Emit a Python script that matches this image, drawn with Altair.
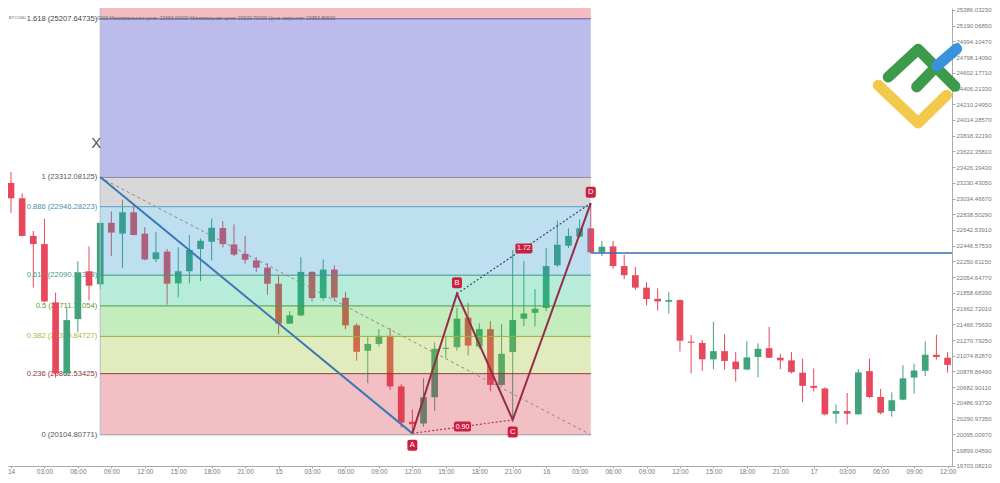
import altair as alt
import pandas as pd

# ---------------- data ----------------
HOURS = list(range(86))
OPEN = [23230, 23038, 22569, 22467, 21740, 20854, 21532, 22128, 21965, 22732,
        22597, 22863, 22597, 22279, 22373, 21977, 22128, 22406, 22496, 22667,
        22462, 22345, 22263, 22173, 21973, 21475, 21577, 22120, 21794, 22149,
        21797, 21454, 21136, 21222, 21323, 20692, 20251, 20230, 20557, 21161,
        21181, 21549, 21189, 21406, 20711, 21120, 21537, 21610, 21671, 22202,
        22447, 22560, 22663, 22364, 22438, 22193, 22079, 21924, 21785, 21748,
        21769, 21250, 21234, 21030, 21132, 21001, 20903, 21059, 21169, 21050,
        21017, 20863, 20699, 20667, 20352, 20385, 20344, 20883, 20560, 20385,
        20527, 20802, 20887, 21087, 21050, 20956]
HIGH = [23365, 23099, 22630, 22781, 21862, 21675, 22254, 22438, 22732, 22875,
        23019, 22945, 22679, 22618, 22406, 22426, 22578, 22536, 22786, 22753,
        22712, 22569, 22303, 22230, 22079, 21630, 22303, 22130, 22275, 22200,
        21871, 21480, 21307, 21406, 21418, 20720, 20405, 20793, 21243, 21323,
        21671, 21733, 21479, 21507, 21467, 22394, 22254, 21904, 22418, 22761,
        22663, 22774, 22977, 22508, 22508, 22333, 22181, 21990, 21916, 21867,
        21780, 21332, 21271, 21500, 21344, 21120, 21255, 21230, 21434, 21099,
        21120, 21038, 20916, 20680, 20466, 20610, 20907, 21038, 20662, 20618,
        20956, 20977, 21255, 21336, 21120, 21120]
LOW = [22855, 22560, 21924, 21740, 20800, 20830, 21365, 21764, 21908, 22316,
       22169, 22575, 22265, 22242, 21712, 21801, 21977, 22006, 22263, 22426,
       22316, 22222, 22120, 21834, 21344, 21470, 21570, 21752, 21761, 21760,
       21406, 21013, 20732, 21190, 20646, 20181, 20107, 20189, 20385, 21047,
       21140, 21078, 21161, 20630, 20692, 20275, 21446, 21439, 21630, 22181,
       22418, 22548, 22352, 22316, 22161, 22030, 21895, 21703, 21638, 21598,
       21127, 20854, 20887, 20907, 20903, 20753, 20895, 20805, 21047, 20907,
       20854, 20495, 20630, 20331, 20230, 20217, 20344, 20548, 20344, 20315,
       20520, 20601, 20821, 21026, 20863, 20900]
CLOSE = [23038, 22569, 22467, 21752, 20854, 21519, 22112, 21948, 22732, 22610,
         22863, 22581, 22275, 22364, 21973, 22128, 22394, 22508, 22671, 22467,
         22336, 22271, 22173, 21973, 21475, 21577, 22120, 21794, 22149, 21800,
         21454, 21124, 21222, 21323, 20692, 20242, 20221, 20557, 21161, 21173,
         21537, 21201, 21406, 20711, 21099, 21519, 21601, 21659, 22193, 22459,
         22569, 22663, 22364, 22434, 22193, 22079, 21924, 21782, 21752, 21769,
         21262, 21238, 21030, 21132, 21010, 20907, 21054, 21161, 21050, 21017,
         20870, 20699, 20674, 20344, 20385, 20352, 20867, 20560, 20364, 20520,
         20793, 20891, 21087, 21059, 20961, 21087]

# Fibonacci retracement levels (drawn from hour 8 to hour 52)
FIB_PRICE = [25276, 23298, 22933, 22079, 21696, 21316, 20851, 20089]
FIB_TEXT = ["1.618 (25207.64735)", "1 (23312.08125)", "0.886 (22946.28223)",
            "0.618 (22090.31338)", "0.5 (21711.71054)", "0.382 (21330.84727)",
            "0.236 (20862.53425)", "0 (20104.80771)"]
FIB_START, FIB_END = 8, 52
BAND_TOP = 25447

# XABCD pattern
PAT_NAME = ["X", "A", "B", "C", "D"]
PAT_HOUR = [8, 36, 40, 45, 52]
PAT_PRICE = [23304, 20107, 21847, 20275, 22977]
RATIO_TEXT = ["0.90", "1.72"]          # A->C and B->D
LAST_PRICE = 22357

# header texts (hour, price)
HEAD_TEXT = ["BTCUSD",
             "0000  Максимальная цена: 23363.00000   Минимальная цена: 23320.70000   Цена закрытия: 23353.80000"]
HEAD_HOUR = [-0.2, 7.72]
HEAD_PRICE = [25288, 25288]

# axes
X_TICKS = list(range(0, 85, 3))
X_LABELS = ["14", "03:00", "06:00", "09:00", "12:00", "15:00", "18:00", "21:00",
            "15", "03:00", "06:00", "09:00", "12:00", "15:00", "18:00", "21:00",
            "16", "03:00", "06:00", "09:00", "12:00", "15:00", "18:00", "21:00",
            "17", "03:00", "06:00", "09:00", "12:00"]
Y_TICKS = [19703.08210, 19899.04590, 20095.00970, 20290.97350, 20486.93730,
           20682.90110, 20878.86490, 21074.82870, 21270.79250, 21466.75630,
           21662.72010, 21858.68390, 22054.64770, 22250.61150, 22446.57530,
           22642.53910, 22838.50290, 23034.46670, 23230.43050, 23426.39430,
           23622.35810, 23818.32190, 24014.28570, 24210.24950, 24406.21330,
           24602.17710, 24798.14090, 24994.10470, 25190.06850, 25386.03230]

# watermark logo strokes (hour, price)
LOGO_STROKE = ["y", "y", "y", "g1", "g1", "g1", "g2", "g2", "b", "b"]
LOGO_HOUR = [77.79, 81.37, 83.92, 78.68, 81.37, 84.67, 81.23, 82.87, 83.05, 84.82]
LOGO_PRICE = [24447, 23978, 24324, 24550, 24896, 24434, 24427, 24663, 24690, 24902]

# ---------------- styling ----------------
RED, GREEN = "#e8485c", "#41a37c"
BAND_COLORS = ["#d42030", "#2020c0", "#7d7d7d", "#2694cd", "#12c084",
               "#3ac026", "#98c026", "#d42d3a"]
LINE_COLORS = ["#5b5bb0", "#8a8aa0", "#5a9ec8", "#3a9a80", "#4a9a4a",
               "#9ab040", "#8b3a3a", "#999999"]
LABEL_COLORS = ["#444444", "#555555", "#4a8cb0", "#3a9a8a", "#5a9a30",
                "#b8b040", "#8a3535", "#555555"]
BOX = "#cc1f40"
FONT = "Liberation Sans"

xs = alt.Scale(domain=[-0.269, 84.4], nice=False, zero=False)
ys = alt.Scale(domain=[19700.0, 25410.5], nice=False, zero=False)

label_expr = "[" + ",".join("'%s'" % s for s in X_LABELS) + "][round(datum.value/3)]"

X_AXIS = alt.Axis(
    values=X_TICKS, labelExpr=label_expr, title=None, grid=False,
    labelFontSize=6.5, labelColor="#777", labelFont=FONT, tickColor="#aaa",
    domainColor="#aaa", tickSize=2, labelPadding=0, labelFlush=False,
    labelOverlap=False)
Y_AXIS = alt.Axis(
    orient="right", values=Y_TICKS, format=".5f", title=None, grid=False,
    labelFontSize=6, labelColor="#777", labelFont=FONT, tickColor="#aaa",
    domainColor="#aaa", tickSize=3, labelPadding=1, labelFlush=False,
    labelOverlap=False)


def X(f):
    return alt.X(f, scale=xs, axis=X_AXIS)


def Y(f):
    return alt.Y(f, scale=ys, axis=Y_AXIS)


candles = pd.DataFrame({"h": HOURS, "o": OPEN, "hi": HIGH, "lo": LOW, "c": CLOSE})
candles["col"] = [GREEN if c >= o else RED for o, c in zip(OPEN, CLOSE)]

base = alt.Chart(candles)
wicks = base.mark_rule(strokeWidth=1, clip=True).encode(
    x=X("h:Q"), y=Y("lo:Q"), y2="hi:Q",
    color=alt.Color("col:N", scale=None),
)
bodies = base.transform_calculate(
    x1="datum.h - 0.3", x2="datum.h + 0.3",
    top="abs(datum.o - datum.c) < 14 ? (datum.o + datum.c) / 2 + 7 : max(datum.o, datum.c)",
    bot="abs(datum.o - datum.c) < 14 ? (datum.o + datum.c) / 2 - 7 : min(datum.o, datum.c)",
).mark_rect(clip=True).encode(
    x=X("x1:Q"), x2="x2:Q", y=Y("bot:Q"), y2="top:Q",
    color=alt.Color("col:N", scale=None),
)

# fib bands
band_hi = [BAND_TOP] + FIB_PRICE[:-1]
bands = pd.DataFrame({"lo": FIB_PRICE, "hi": band_hi, "col": BAND_COLORS,
                      "x1": [FIB_START] * 8, "x2": [FIB_END] * 8})
band_layer = alt.Chart(bands).mark_rect(opacity=0.3, clip=True).encode(
    x=X("x1:Q"), x2="x2:Q", y=Y("lo:Q"), y2="hi:Q",
    color=alt.Color("col:N", scale=None),
)

levels = pd.DataFrame({"p": FIB_PRICE, "txt": FIB_TEXT, "lc": LINE_COLORS,
                       "tc": LABEL_COLORS, "x1": [FIB_START] * 8, "x2": [FIB_END] * 8})
level_lines = alt.Chart(levels).mark_rule(strokeWidth=1).encode(
    x=X("x1:Q"), x2="x2:Q", y=Y("p:Q"),
    color=alt.Color("lc:N", scale=None),
)
level_text = alt.Chart(levels).mark_text(
    align="right", baseline="middle", dx=-3, fontSize=7.6, font=FONT).encode(
    x=X("x1:Q"), y=Y("p:Q"), text="txt:N",
    color=alt.Color("tc:N", scale=None),
)
box_edge = alt.Chart(levels.iloc[[0]]).transform_calculate(
    top=str(BAND_TOP), bot=str(FIB_PRICE[-1])).mark_rule(
    strokeWidth=1, color="#b8b8c8", clip=True).encode(
    x=X("x1:Q"), y=Y("bot:Q"), y2="top:Q")

head = pd.DataFrame({"t": HEAD_TEXT, "h": HEAD_HOUR, "p": HEAD_PRICE,
                     "fs": [4.2, 5.0]})
head_layer = alt.Chart(head).mark_text(
    align="left", baseline="middle", font=FONT, color="#666").encode(
    x=X("h:Q"), y=Y("p:Q"), text="t:N",
    size=alt.Size("fs:Q", scale=None))

# fib trend diagonal
diag = pd.DataFrame({"h": [FIB_START, FIB_END], "p": [FIB_PRICE[1], FIB_PRICE[-1]]})
diag_layer = alt.Chart(diag).mark_line(
    strokeWidth=1, strokeDash=[3, 3], color="#8a8a8a").encode(
    x=X("h:Q"), y=Y("p:Q"))

pat = pd.DataFrame({"n": PAT_NAME, "h": PAT_HOUR, "p": PAT_PRICE,
                    "k": list(range(5))})
xa = alt.Chart(pat.iloc[0:2]).mark_line(strokeWidth=2, color="#3b78b8").encode(
    x=X("h:Q"), y=Y("p:Q"), order="k:Q")
abcd = alt.Chart(pat.iloc[1:5]).mark_line(strokeWidth=2, color="#972c48").encode(
    x=X("h:Q"), y=Y("p:Q"), order="k:Q")
ac = alt.Chart(pat.iloc[[1, 3]]).mark_line(
    strokeWidth=1.2, strokeDash=[2, 2], color="#c0304f").encode(
    x=X("h:Q"), y=Y("p:Q"))
bd = alt.Chart(pat.iloc[[2, 4]]).mark_line(
    strokeWidth=1.2, strokeDash=[2, 2], color="#4a3a78").encode(
    x=X("h:Q"), y=Y("p:Q"))

price_line = alt.Chart(pd.DataFrame({"x1": [PAT_HOUR[-1]], "x2": [84.4],
                                     "p": [LAST_PRICE]})).mark_rule(
    strokeWidth=1.5, color="#3a6eb0").encode(
    x=X("x1:Q"), x2="x2:Q", y=Y("p:Q"))

below = pat[pat.n.isin(["A", "C"])]
above = pat[pat.n.isin(["B", "D"])]


def point_label(df, off):
    box = alt.Chart(df).mark_rect(width=10, height=11, cornerRadius=2,
                                  color=BOX, yOffset=off).encode(
        x=X("h:Q"), y=Y("p:Q"))
    txt = alt.Chart(df).mark_text(color="white", fontSize=7.5, font=FONT,
                                  baseline="middle", dy=off).encode(
        x=X("h:Q"), y=Y("p:Q"), text="n:N")
    return [box, txt]


mids = pd.DataFrame({
    "h": [(PAT_HOUR[1] + PAT_HOUR[3]) / 2, (PAT_HOUR[2] + PAT_HOUR[4]) / 2],
    "p": [(PAT_PRICE[1] + PAT_PRICE[3]) / 2, (PAT_PRICE[2] + PAT_PRICE[4]) / 2],
    "t": RATIO_TEXT})
ratio_box = alt.Chart(mids).mark_rect(width=17, height=10, cornerRadius=2,
                                      color=BOX).encode(x=X("h:Q"), y=Y("p:Q"))
ratio_txt = alt.Chart(mids).mark_text(color="white", fontSize=7, font=FONT,
                                      baseline="middle").encode(
    x=X("h:Q"), y=Y("p:Q"), text="t:N")

x_txt = alt.Chart(pat.iloc[[0]]).mark_text(
    fontSize=15, font=FONT, color="#555", dx=-4, dy=-34, baseline="middle").encode(
    x=X("h:Q"), y=Y("p:Q"), text="n:N")

logo = pd.DataFrame({"s": LOGO_STROKE, "h": LOGO_HOUR, "p": LOGO_PRICE,
                     "k": list(range(len(LOGO_HOUR)))})
logo["col"] = logo.s.map({"y": "#f2c94a", "g1": "#3d9a4b", "g2": "#3d9a4b",
                          "b": "#3b92dc"})
logo_layer = alt.Chart(logo).mark_line(
    strokeWidth=11, strokeCap="round", strokeJoin="round").encode(
    x=X("h:Q"), y=Y("p:Q"),
    detail="s:N", order="k:Q", color=alt.Color("col:N", scale=None))

chart = alt.layer(
    wicks, level_text, bodies, band_layer, box_edge, level_lines, head_layer,
    diag_layer, xa, abcd, ac, bd, price_line,
    *point_label(below, 12), *point_label(above, -11),
    ratio_box, ratio_txt, x_txt, logo_layer,
).properties(
    width=944, height=458,
    autosize=alt.AutoSizeParams(type="none"),
    padding={"left": 0, "top": 0, "right": 40, "bottom": 9},
).configure_view(stroke=None)

chart.save("out.html", embed_options={"renderer": "svg", "actions": False})
